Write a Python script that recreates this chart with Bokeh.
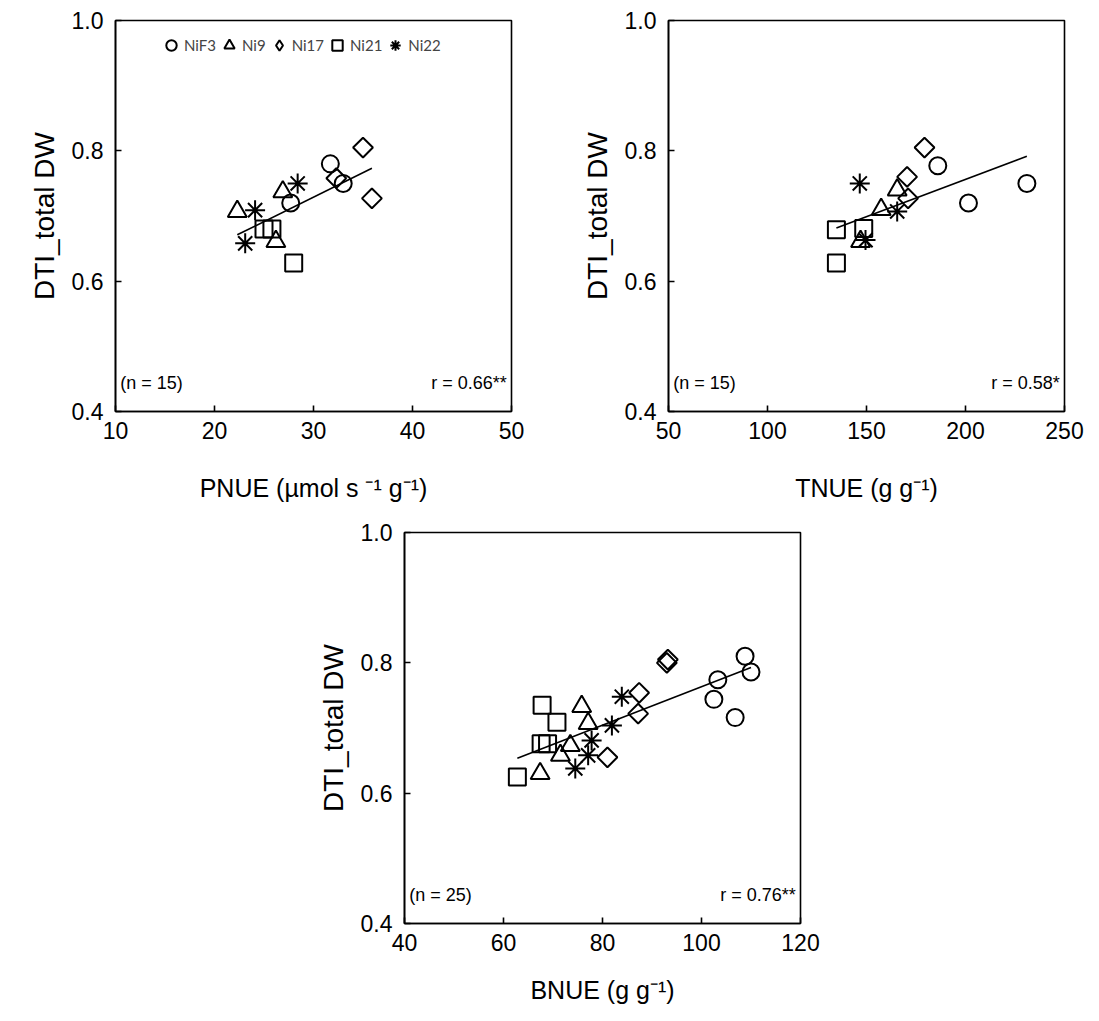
import numpy as np
from bokeh.plotting import figure
from bokeh.models import (Range1d, FixedTicker, PrintfTickFormatter, Label, Legend,
                          LegendItem, ColumnDataSource)
from bokeh.layouts import column, row
from bokeh.embed import file_html
from bokeh.resources import INLINE

genotypes = ["NiF3", "Ni9", "Ni17", "Ni21", "Ni22"]

# Panel 1: PNUE vs DTI_total DW
pnue_x = {
    "NiF3": [31.7, 33.0, 27.7],
    "Ni9": [22.3, 26.9, 26.2],
    "Ni17": [35.0, 35.9, 32.3],
    "Ni21": [25.0, 25.8, 28.0],
    "Ni22": [28.4, 24.1, 23.1],
}
pnue_y = {
    "NiF3": [0.780, 0.750, 0.720],
    "Ni9": [0.707, 0.737, 0.661],
    "Ni17": [0.805, 0.727, 0.758],
    "Ni21": [0.680, 0.680, 0.628],
    "Ni22": [0.750, 0.709, 0.658],
}

# Panel 2: TNUE vs DTI_total DW
tnue_x = {
    "NiF3": [186.0, 201.5, 231.0],
    "Ni9": [147.0, 157.4, 165.5],
    "Ni17": [179.3, 170.5, 171.0],
    "Ni21": [134.8, 148.6, 134.8],
    "Ni22": [146.6, 165.5, 149.5],
}
tnue_y = {
    "NiF3": [0.777, 0.720, 0.750],
    "Ni9": [0.661, 0.710, 0.740],
    "Ni17": [0.805, 0.760, 0.727],
    "Ni21": [0.679, 0.681, 0.628],
    "Ni22": [0.750, 0.707, 0.663],
}

# Panel 3: BNUE vs DTI_total DW
bnue_x = {
    "NiF3": [108.8, 110.0, 103.3, 102.5, 106.8],
    "Ni9": [75.8, 77.1, 73.5, 71.5, 67.4],
    "Ni17": [93.0, 93.2, 87.4, 87.2, 81.0],
    "Ni21": [67.8, 70.8, 67.6, 68.9, 62.8],
    "Ni22": [83.9, 81.9, 77.8, 77.1, 74.5],
}
bnue_y = {
    "NiF3": [0.810, 0.786, 0.774, 0.744, 0.716],
    "Ni9": [0.733, 0.707, 0.673, 0.658, 0.630],
    "Ni17": [0.800, 0.805, 0.754, 0.722, 0.655],
    "Ni21": [0.735, 0.709, 0.676, 0.676, 0.625],
    "Ni22": [0.748, 0.704, 0.681, 0.658, 0.638],
}

y_ticks = [0.4, 0.6, 0.8, 1.0]
pnue_ticks = [10, 20, 30, 40, 50]
tnue_ticks = [50, 100, 150, 200, 250]
bnue_ticks = [40, 60, 80, 100, 120]

FONT = "Liberation Sans"
LEG_FONT = "Lato"

marker_style = {
    "NiF3": dict(marker="circle", size=17, angle=0.0, legend_marker="circle"),
    "Ni9": dict(marker="triangle", size=19, angle=0.0, legend_marker="triangle"),
    "Ni17": dict(marker="square", size=14, angle=np.pi / 4, legend_marker="diamond"),
    "Ni21": dict(marker="square", size=17, angle=0.0, legend_marker="square"),
    "Ni22": dict(marker="asterisk", size=20, angle=0.0, legend_marker="asterisk"),
}


def make_panel(xd, yd, xticks, xlabel, n_text, r_text, borders, label_standoff, legend=False):
    bl, br, bt, bb = borders
    p = figure(frame_width=396, frame_height=391, output_backend="svg", toolbar_location=None,
               x_range=Range1d(xticks[0], xticks[-1]), y_range=Range1d(0.4, 1.0),
               min_border_left=bl, min_border_right=br, min_border_top=bt, min_border_bottom=bb)
    p.xgrid.visible = False
    p.ygrid.visible = False
    p.outline_line_color = "black"
    p.outline_line_width = 1.6
    p.background_fill_color = "white"
    p.border_fill_color = "white"
    for ax, ticks, fmt in ((p.xaxis, xticks, "%d"), (p.yaxis, y_ticks, "%.1f")):
        ax.ticker = FixedTicker(ticks=ticks)
        ax.formatter = PrintfTickFormatter(format=fmt)
        ax.major_tick_in = 6
        ax.major_tick_out = 0
        ax.minor_tick_line_color = None
        ax.axis_line_color = "black"
        ax.axis_line_width = 1.6
        ax.major_tick_line_color = "black"
        ax.major_tick_line_width = 1.6
        ax.major_label_text_font = FONT
        ax.major_label_text_font_size = "23px"
        ax.major_label_text_color = "black"
        ax.axis_label_text_font = FONT
        ax.axis_label_text_font_style = "normal"
        ax.axis_label_text_color = "black"
    p.xaxis.axis_label_text_font_size = "25px"
    p.yaxis.axis_label_text_font_size = "28px"
    p.xaxis.major_label_standoff = 10
    p.yaxis.major_label_standoff = 12
    p.xaxis.axis_label = xlabel
    p.yaxis.axis_label = "DTI_total DW"
    p.xaxis.axis_label_standoff = label_standoff
    p.yaxis.axis_label_standoff = 9

    allx, ally = [], []
    items = []
    for g in genotypes:
        st = marker_style[g]
        src = ColumnDataSource(dict(x=xd[g], y=yd[g]))
        r = p.scatter("x", "y", source=src, marker=st["marker"], size=st["size"], angle=st["angle"],
                      fill_alpha=0, line_color="black", line_width=2)
        if st["legend_marker"] != st["marker"]:
            # legend swatch with an upright diamond shape (no visible point)
            lr = p.scatter(x=np.array([np.nan]), y=np.array([np.nan]), marker=st["legend_marker"],
                           size=st["size"], fill_alpha=0, line_color="black", line_width=2)
            items.append(LegendItem(label=g, renderers=[lr]))
        else:
            items.append(LegendItem(label=g, renderers=[r]))
        allx += xd[g]
        ally += yd[g]
    allx = np.array(allx)
    ally = np.array(ally)
    k, b = np.polyfit(allx, ally, 1)
    lx = [allx.min(), allx.max()]
    p.line(lx, [k * lx[0] + b, k * lx[1] + b], line_color="black", line_width=1.6)

    x0, x1 = xticks[0], xticks[-1]
    dx = x1 - x0
    p.add_layout(Label(x=x0 + dx * 0.012, y=0.444, text=n_text, text_font=FONT, text_font_size="18px",
                       text_baseline="middle", text_align="left", text_color="black"))
    p.add_layout(Label(x=x1 - dx * 0.012, y=0.444, text=r_text, text_font=FONT, text_font_size="18px",
                       text_baseline="middle", text_align="right", text_color="black"))
    if legend:
        leg = Legend(items=items, orientation="horizontal", location=(43, 353),
                     label_text_font=LEG_FONT, label_text_font_size="15px",
                     glyph_width=26, glyph_height=26, label_standoff=0, spacing=-2,
                     padding=0, margin=0, border_line_color=None, background_fill_alpha=0)
        p.add_layout(leg, "center")
    return p


p1 = make_panel(pnue_x, pnue_y, pnue_ticks, "PNUE (µmol s \u207b\u00b9 g\u207b\u00b9)", "(n = 15)", "r = 0.66**",
                (115, 47, 20, 100), 32, legend=True)
p2 = make_panel(tnue_x, tnue_y, tnue_ticks, "TNUE (g g\u207b\u00b9)", "(n = 15)", "r = 0.58*",
                (110, 20, 20, 100), 32)
p3 = make_panel(bnue_x, bnue_y, bnue_ticks, "BNUE (g g\u207b\u00b9)", "(n = 25)", "r = 0.76**",
                (404, 30, 21, 85), 22)

layout = column(row(p1, p2), p3)
open("out.html", "w").write(file_html(layout, INLINE))
